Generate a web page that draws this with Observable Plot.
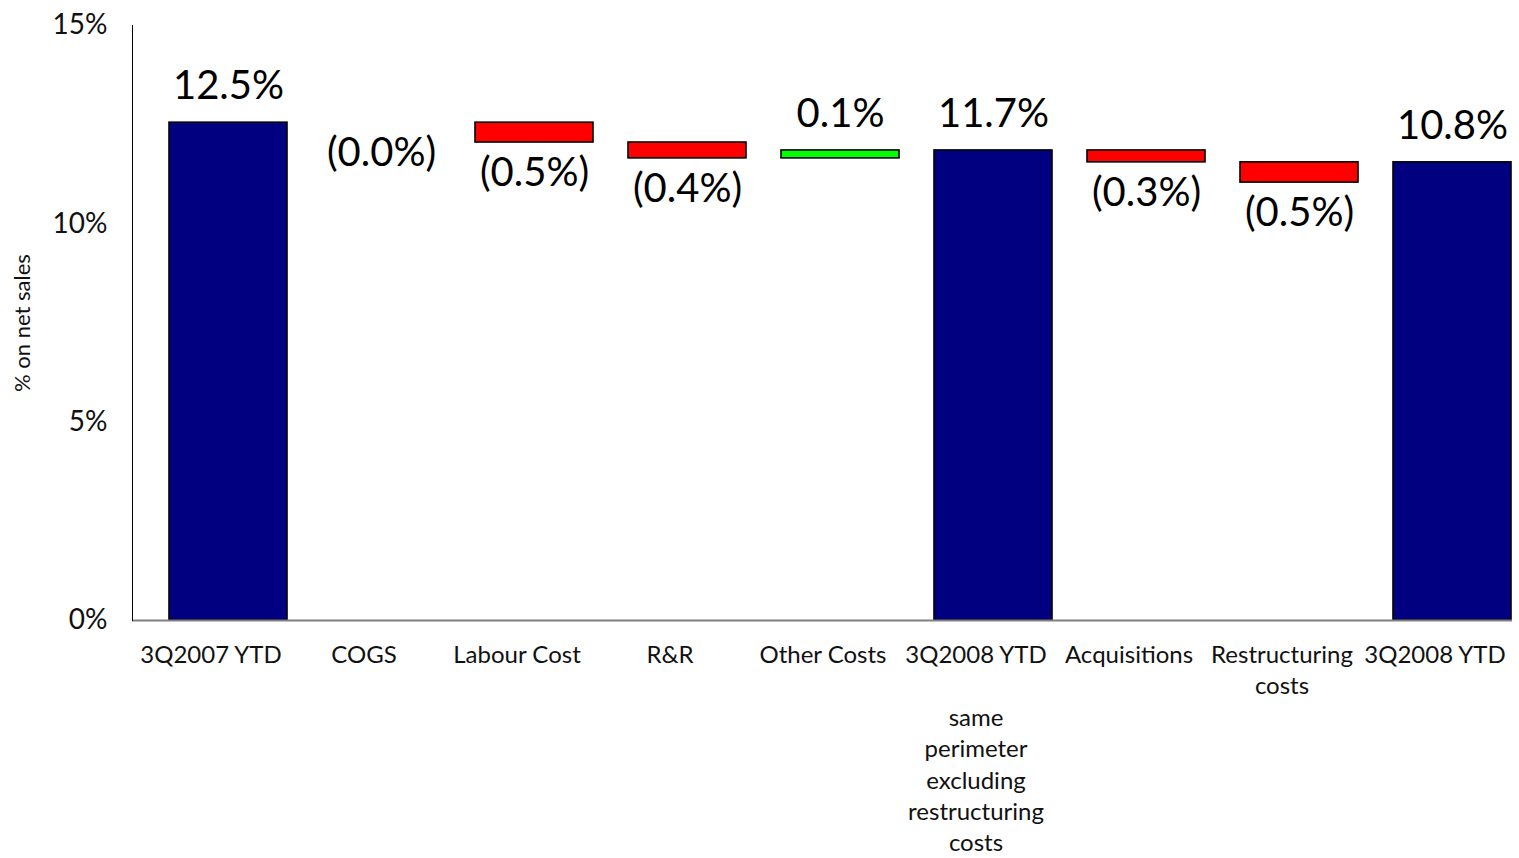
<!DOCTYPE html>
<html>
<head>
<meta charset="utf-8">
<script src="https://cdn.jsdelivr.net/npm/d3@7"></script>
<script src="https://cdn.jsdelivr.net/npm/@observablehq/plot@0.6"></script>
<style>
  html, body { margin: 0; padding: 0; background: #fff; }
  #chart { width: 1519px; height: 858px; }
</style>
</head>
<body>
<div id="chart"></div>
<script>
const categories = [
  "3Q2007 YTD", "COGS", "Labour Cost", "R&R", "Other Costs",
  "3Q2008 YTD\n\nsame\nperimeter\nexcluding\nrestructuring\ncosts",
  "Acquisitions", "Restructuring\ncosts", "3Q2008 YTD"
];
const kinds = ["total", "delta", "delta", "delta", "delta", "total", "delta", "delta", "total"];
const startValues = [0, 12.55, 12.55, 12.05, 11.65, 0, 11.85, 11.55, 0];
const endValues = [12.55, 12.55, 12.05, 11.65, 11.85, 11.85, 11.55, 11.04, 11.55];
const valueLabels = ["12.5%", "(0.0%)", "(0.5%)", "(0.4%)", "0.1%", "11.7%", "(0.3%)", "(0.5%)", "10.8%"];
const yTicks = [0, 5, 10, 15];
const yTitle = "% on net sales";

const data = categories.map((c, i) => ({
  cat: c,
  kind: kinds[i],
  start: startValues[i],
  end: endValues[i],
  label: valueLabels[i],
  below: kinds[i] === "delta" && endValues[i] <= startValues[i]
}));

const fillOf = d => d.kind === "total" ? "#000080" : (d.end < d.start ? "#ff0000" : "#00ff00");
const font = "Lato, 'Noto Sans', sans-serif";

const chart = Plot.plot({
  width: 1519,
  height: 858,
  marginLeft: 132,
  marginRight: 7,
  marginTop: 25,
  marginBottom: 238,
  style: { fontFamily: font, background: "#fff", color: "#111", overflow: "visible" },
  x: { type: "band", domain: categories, padding: 0, axis: null },
  y: { domain: [0, 15], ticks: yTicks, axis: null },
  marks: [
    Plot.axisY({ ticks: yTicks, tickFormat: d => d + "%", tickSize: 0, tickPadding: 25, fontSize: 28, label: null }),
    Plot.barY(data, {
      x: "cat", y1: "start", y2: "end",
      fill: fillOf, stroke: "#000", strokeWidth: 1.6,
      insetLeft: 35, insetRight: 0
    }),
    Plot.ruleY([0], { stroke: "#808080", strokeWidth: 2 }),
    Plot.frame({ anchor: "left", stroke: "#000", strokeWidth: 1 }),
    Plot.text(data.filter(d => !d.below), {
      x: "cat", y: "end", text: "label", dx: 17.5, dy: -36,
      fontSize: 40, fill: "#000", lineAnchor: "middle"
    }),
    Plot.text(data.filter(d => d.below), {
      x: "cat", y: "end", text: "label", dx: 17.5, dy: 31,
      fontSize: 40, fill: "#000", lineAnchor: "middle"
    }),
    Plot.text(data, {
      x: "cat", text: "cat", frameAnchor: "bottom", lineAnchor: "top",
      dy: 20, fontSize: 24, lineHeight: 1.31, fill: "#111"
    }),
    Plot.text([yTitle], {
      text: d => d, frameAnchor: "left", textAnchor: "middle", rotate: -90, dx: -110, dy: 0,
      fontSize: 22, fill: "#111"
    })
  ]
});
document.getElementById("chart").appendChild(chart);
</script>
</body>
</html>
